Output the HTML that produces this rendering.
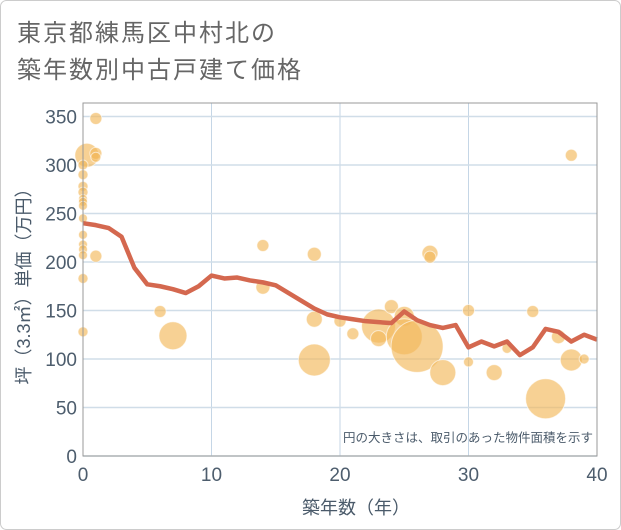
<!DOCTYPE html>
<html><head><meta charset="utf-8"><style>
html,body{margin:0;padding:0;background:#fff;}
svg{display:block;font-family:"Liberation Sans","Noto Sans CJK JP",sans-serif;}
</style></head><body>
<svg id="chart" width="621" height="530" viewBox="0 0 621 530">
<rect x="0.5" y="0.5" width="620" height="529" rx="6" fill="#fff" stroke="#ccc"/>
<text x="17" y="41" font-size="24" fill="#666" letter-spacing="2">東京都練馬区中村北の</text>
<text x="17" y="78" font-size="24" fill="#666" letter-spacing="2">築年数別中古戸建て価格</text>
<g id="grid"></g>
<g id="ticks"></g>
<g id="bubbles"></g>
<g id="line"></g>
<rect x="83" y="103" width="514" height="353" fill="none" stroke="#999" stroke-width="1"/>
<text x="593" y="442" font-size="12.5" fill="#4a5a6a" text-anchor="end">円の大きさは、取引のあった物件面積を示す</text>
<text x="356" y="514" font-size="18" fill="#4a5a6a" text-anchor="middle">築年数（年）</text>
<text transform="translate(30,282) rotate(-90)" font-size="18" fill="#4a5a6a" text-anchor="middle">坪（3.3㎡）単価（万円）</text>
</svg>
<script>
const xTicks=[0,10,20,30,40];
const yTicks=[0,50,100,150,200,250,300,350];
const lineYears=[0,1,2,3,4,5,6,7,8,9,10,11,12,13,14,15,16,17,18,19,20,21,22,23,24,25,26,27,28,29,30,31,32,33,34,35,36,37,38,39,40];
const lineValues=[240,238,235,226,194,177,175,172,168,175,186,183,184,181,179,176,168,160,152,146,143,141,139,138,137,149,140,135,132,135,112,118,113,118,104,112,131,128,118,125,120];
const bubbleYears=[1,0.3,1,1,0,0,0,0,0,0,0,0,0,0,0,0,1,0,0,6,7,14,14,18,18,18,20,21,23,23,24,25,25,26,27,27,28,30,30,32,33,35,36,38,37,38,39];
const bubbleValues=[348,310,312,308,300,290,278,272,265,262,258,245,228,218,213,207,206,183,128,149,124,217,174,208,141,99,139,126,134,121,154,144,123,113,209,205,86,150,97,86,111,149,59,310,123,99,100];
const bubbleSizes=[36,144,36,25,25,25,25,25,20,20,20,20,20,20,20,20,36,25,25,36,196,36,49,49,64,256,36,36,289,64,49,100,324,676,64,36,169,36,25,64,25,36,400,36,49,121,25];
const X0=83,X1=597,Y0=456,Y1=116.5;
const xs=v=>X0+(v/40)*(X1-X0);
const ys=v=>Y0-(v/350)*(Y0-Y1);
const NS='http://www.w3.org/2000/svg';
const mk=(t,a,p)=>{const e=document.createElementNS(NS,t);for(const k in a)e.setAttribute(k,a[k]);p.appendChild(e);return e;};
const grid=document.getElementById('grid'),ticks=document.getElementById('ticks');
xTicks.forEach(t=>{
 const l=mk('line',{x1:xs(t),x2:xs(t),y1:103,y2:456,stroke:'#c5d6e6','stroke-width':1},grid);
 
 
 const tx=mk('text',{x:xs(t),y:481,'font-size':19,fill:'#4d5d6d','text-anchor':'middle'},ticks);
 tx.textContent=t;
 
 
});
yTicks.forEach(t=>{
 const l=mk('line',{x1:83,x2:597,y1:ys(t),y2:ys(t),stroke:'#d0dde8','stroke-width':1.5},grid);
 
 
 const tx=mk('text',{x:77,y:ys(t)+7,'font-size':19,fill:'#4d5d6d','text-anchor':'end'},ticks);
 tx.textContent=t;
 
 
});
const bg=document.getElementById('bubbles');
bubbleYears.forEach((yr,i)=>{
 const c=mk('circle',{cx:xs(yr),cy:ys(bubbleValues[i]),r:Math.sqrt(bubbleSizes[i]),fill:'#f3b95a','fill-opacity':0.65,stroke:'#fff','stroke-opacity':0.6,'stroke-width':1},bg);
 
 
});
const lg=document.getElementById('line');
const p=mk('polyline',{points:lineYears.map((y,i)=>xs(y)+','+ys(lineValues[i])).join(' '),fill:'none',stroke:'#d4684f','stroke-width':4.5,'stroke-linejoin':'round'},lg);


</script>
</body></html>
